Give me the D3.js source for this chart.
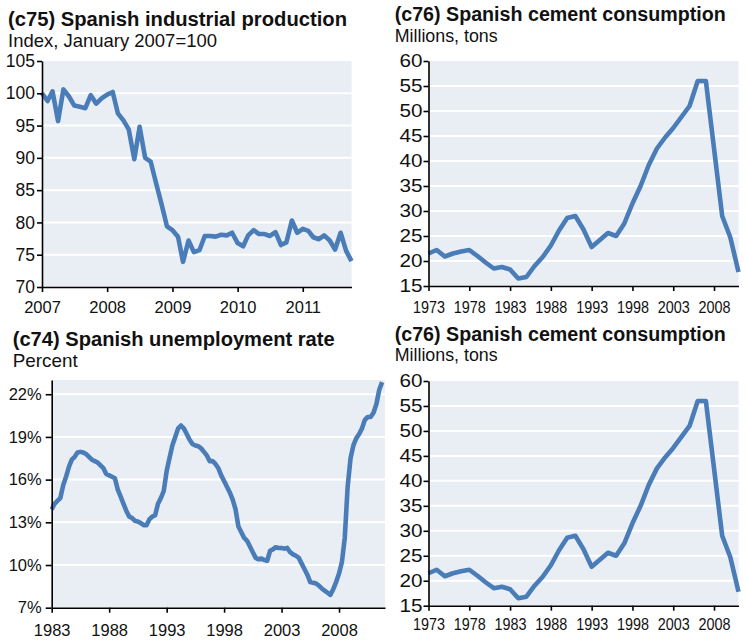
<!DOCTYPE html>
<html>
<head>
<meta charset="utf-8">
<script src="https://cdn.jsdelivr.net/npm/d3@7"></script>
<style>
  body { margin: 0; background: #fff; }
  svg text { font-family: "Liberation Sans", Arial, sans-serif; fill: #111; }
</style>
</head>
<body>
<svg id="chart" width="746" height="642"></svg>
<script>
// (c75) industrial production, monthly, Jan 2007 - Oct 2011
var ipStart = new Date(2007, 0, 1);
var ipValues = [100.0, 98.8, 100.3, 95.7, 100.6, 99.5, 98.1, 97.9, 97.7, 99.7, 98.4, 99.2,
  99.8, 100.2, 96.9, 95.8, 94.4, 89.8, 94.8, 90.0, 89.4, 86.1, 82.8, 79.4,
  78.8, 77.8, 73.9, 77.2, 75.4, 75.7, 77.9, 77.9, 77.8, 78.1, 78.0, 78.4,
  76.8, 76.3, 78.0, 78.8, 78.2, 78.2, 77.9, 78.5, 76.5, 76.9, 80.3, 78.4,
  79.0, 78.7, 77.7, 77.4, 78.0, 77.2, 75.8, 78.4, 75.6, 74.0];
var ipYTicks = [70, 75, 80, 85, 90, 95, 100, 105];
var ipXTicks = [2007, 2008, 2009, 2010, 2011];

// (c76) cement consumption, annual 1973 - 2011
var cementStart = 1973;
var cementValues = [21.5, 22.2, 20.9, 21.5, 21.9, 22.2, 21.0, 19.7, 18.5, 18.8,
  18.3, 16.5, 16.8, 19.0, 20.8, 23.1, 26.1, 28.6, 29.0, 26.3,
  22.8, 24.2, 25.6, 25.0, 27.5, 31.5, 35.0, 39.2, 42.5, 44.7,
  46.6, 48.8, 51.0, 56.0, 56.0, 42.5, 29.0, 24.7, 17.8];
var cementYTicks = [15, 20, 25, 30, 35, 40, 45, 50, 55, 60];
var cementXTicks = [1973, 1978, 1983, 1988, 1993, 1998, 2003, 2008];

// (c74) unemployment rate, quarterly 1983Q1 - 2011Q4
var unempStart = 1983;
var unempValues = [13.9, 14.3, 14.5, 14.7, 15.6, 16.2, 16.9, 17.4, 17.6, 17.9, 17.95, 17.9,
  17.8, 17.6, 17.4, 17.3, 17.2, 17.0, 16.8, 16.4, 16.3, 16.2, 16.1, 15.3,
  14.8, 14.3, 13.8, 13.4, 13.3, 13.1, 13.05, 12.95, 12.8, 12.8, 13.2, 13.4,
  13.5, 14.3, 14.7, 15.2, 16.6, 17.5, 18.4, 19.0, 19.6, 19.8, 19.6, 19.2,
  18.8, 18.5, 18.4, 18.35, 18.2, 17.95, 17.7, 17.3, 17.3, 17.1, 16.8, 16.3,
  15.9, 15.5, 15.1, 14.6, 13.9, 12.7, 12.3, 11.9, 11.7, 11.3, 10.9, 10.5,
  10.4, 10.45, 10.35, 10.3, 11.0, 11.1, 11.25, 11.2, 11.2, 11.15, 11.2, 10.9,
  10.75, 10.65, 10.5, 10.1, 9.7, 9.3, 8.8, 8.75, 8.7, 8.55, 8.35, 8.2,
  8.05, 7.9, 8.3, 8.8, 9.4, 10.2, 11.9, 15.5, 17.5, 18.4, 18.9, 19.2,
  19.6, 20.2, 20.4, 20.4, 20.7, 21.3, 22.3, 22.85];
var unempYTicks = [7, 10, 13, 16, 19, 22];
var unempXTicks = [1983, 1988, 1993, 1998, 2003, 2008];

var svg = d3.select("#chart");
var lineColor = "#4a7cb8";
var bgColor = "#e8eef4";

function drawPanel(p) {
  var g = svg.append("g");

  g.append("text")
    .attr("x", p.tx).attr("y", p.ty)
    .attr("font-size", 19.5).attr("font-weight", "bold")
    .attr("textLength", p.tw).attr("lengthAdjust", "spacingAndGlyphs")
    .text(p.title);
  g.append("text")
    .attr("x", p.tx).attr("y", p.sy)
    .attr("font-size", p.sfs)
    .attr("textLength", p.sw).attr("lengthAdjust", "spacingAndGlyphs")
    .text(p.subtitle);

  var x = p.x, y = p.y;
  var x0 = x.range()[0], x1 = x.range()[1];
  var y0 = y.range()[1], y1 = y.range()[0];

  g.append("rect")
    .attr("x", x0).attr("y", y0)
    .attr("width", x1 - x0).attr("height", y1 - y0)
    .attr("fill", bgColor);

  // white gridlines
  g.selectAll(".grid")
    .data(p.yTicks.filter(d => d > y.domain()[0] && d < y.domain()[1]))
    .join("line")
    .attr("x1", x0).attr("x2", x1)
    .attr("y1", d => y(d)).attr("y2", d => y(d))
    .attr("stroke", "#fff").attr("stroke-width", 2);

  var line = d3.line()
    .x(d => x(d.date))
    .y(d => y(d.value));

  g.append("path")
    .datum(p.data)
    .attr("d", line)
    .attr("fill", "none")
    .attr("stroke", lineColor)
    .attr("stroke-width", 4.6)
    .attr("stroke-linejoin", "round");

  var ya = g.append("g")
    .attr("transform", "translate(" + x0 + ",0)")
    .call(d3.axisLeft(y).tickValues(p.yTicks).tickFormat(p.yFormat)
      .tickSize(p.yTickSize).tickSizeOuter(0).tickPadding(p.yPad));
  var xa = g.append("g")
    .attr("transform", "translate(0," + y1 + ")")
    .call(d3.axisBottom(x).tickValues(p.xTickVals).tickFormat(p.xFormat)
      .tickSize(5).tickSizeOuter(0).tickPadding(p.xPad));

  [ya, xa].forEach(function(a) {
    a.select(".domain").attr("stroke", "#000").attr("stroke-width", 1.6);
    a.selectAll(".tick line").attr("stroke", "#000").attr("stroke-width", 1.6);
    a.selectAll("text").attr("font-family", null).attr("fill", "#111");
  });
  ya.selectAll("text").attr("font-size", p.yfs);
  xa.selectAll("text").attr("font-size", p.xfs);
  if (p.yLabW) ya.selectAll("text").each(function(d) {
    var s = String(p.yFormat(d)).length;
    d3.select(this).attr("textLength", p.yLabW * s).attr("lengthAdjust", "spacingAndGlyphs");
  });
  if (p.xLabW) xa.selectAll("text")
    .attr("textLength", p.xLabW).attr("lengthAdjust", "spacingAndGlyphs");
}

// top-left: industrial production
drawPanel({
  title: "(c75) Spanish industrial production", tx: 8, ty: 26, tw: 339,
  subtitle: "Index, January 2007=100", sy: 46.7, sfs: 19, sw: 209,
  x: d3.scaleTime().domain([ipStart, new Date(2007, ipValues.length - 1, 1)]).range([42, 351.5]),
  y: d3.scaleLinear().domain([70, 105]).range([287, 61]),
  data: ipValues.map((v, i) => ({ date: new Date(2007, i, 1), value: v })),
  yTicks: ipYTicks, yFormat: d3.format("d"), yTickSize: 5, yPad: 2, yfs: 17.5,
  xTickVals: ipXTicks.map(yr => new Date(yr, 0, 1)), xFormat: d3.timeFormat("%Y"),
  xPad: 9, xfs: 16.5
});

// top-right: cement
drawPanel({
  title: "(c76) Spanish cement consumption", tx: 394.7, ty: 20.7, tw: 331,
  subtitle: "Millions, tons", sy: 41.7, sfs: 18, sw: 103,
  x: d3.scaleLinear().domain([cementStart, cementStart + cementValues.length - 1]).range([428.5, 738.5]),
  y: d3.scaleLinear().domain([15, 60]).range([286, 61]),
  data: cementValues.map((v, i) => ({ date: cementStart + i, value: v })),
  yTicks: cementYTicks, yFormat: d3.format("d"), yTickSize: 5, yPad: 1, yfs: 17.5, yLabW: 11.5,
  xTickVals: cementXTicks, xFormat: d3.format("d"),
  xPad: 10.5, xfs: 16.5, xLabW: 32
});

// bottom-left: unemployment
drawPanel({
  title: "(c74) Spanish unemployment rate", tx: 12.7, ty: 346, tw: 322,
  subtitle: "Percent", sy: 366.7, sfs: 19, sw: 65,
  x: d3.scaleTime().domain([new Date(unempStart, 0, 1), new Date(2012, 0, 1)]).range([51.7, 385]),
  y: d3.scaleLinear().domain([7, 23]).range([607.7, 380]),
  data: unempValues.map((v, i) => ({ date: new Date(unempStart, i * 3, 1), value: v })),
  yTicks: unempYTicks, yFormat: d => d + "%", yTickSize: 6, yPad: 4, yfs: 16.5,
  xTickVals: unempXTicks.map(yr => new Date(yr, 0, 1)), xFormat: d3.timeFormat("%Y"),
  xPad: 11.3, xfs: 16.5
});

// bottom-right: cement (repeat)
drawPanel({
  title: "(c76) Spanish cement consumption", tx: 394.7, ty: 340.7, tw: 331,
  subtitle: "Millions, tons", sy: 361, sfs: 18, sw: 103,
  x: d3.scaleLinear().domain([cementStart, cementStart + cementValues.length - 1]).range([428.5, 738.5]),
  y: d3.scaleLinear().domain([15, 60]).range([605.7, 381]),
  data: cementValues.map((v, i) => ({ date: cementStart + i, value: v })),
  yTicks: cementYTicks, yFormat: d3.format("d"), yTickSize: 5, yPad: 1, yfs: 17.5, yLabW: 11.5,
  xTickVals: cementXTicks, xFormat: d3.format("d"),
  xPad: 7.6, xfs: 16.5, xLabW: 32
});
</script>
</body>
</html>
